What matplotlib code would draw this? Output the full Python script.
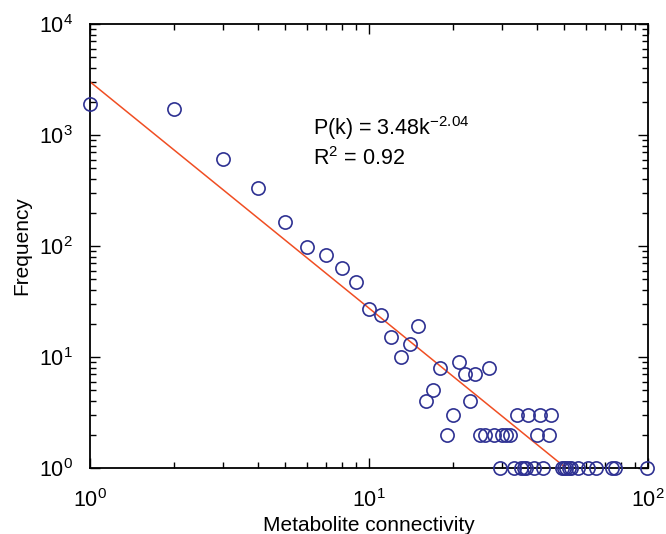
import numpy as np
import matplotlib
matplotlib.use('Agg')
from matplotlib import pyplot as plt

plt.rcParams['font.family'] = ['Liberation Sans', 'DejaVu Sans']
plt.rcParams['mathtext.default'] = 'regular'

# degree distribution
k = [1, 2, 3, 4, 5, 6, 7, 8, 9, 10, 11, 12, 13, 14, 15, 16, 17, 18, 19, 20,
     21, 22, 23, 24, 25, 26, 27, 28, 30, 31, 32, 40, 44,
     34, 37, 41, 45,
     29.5, 33, 35, 36, 36.5, 39, 42, 49, 50, 51, 52, 53, 56, 61, 65, 74, 76, 99]
freq = [1900, 1700, 610, 330, 165, 97, 83, 63, 47, 27, 24, 15, 10, 13, 19, 4, 5, 8, 2, 3,
        9, 7, 4, 7, 2, 2, 8, 2, 2, 2, 2, 2, 2,
        3, 3, 3, 3,
        1, 1, 1, 1, 1, 1, 1, 1, 1, 1, 1, 1, 1, 1, 1, 1, 1, 1]

# power-law fit shown on the chart
fit_logA = 3.48
fit_exp = -2.04

fig = plt.figure(figsize=(6.66, 5.34), dpi=100)
ax = fig.add_axes([0.135, 0.1236, 0.838, 0.8315])

k_end = 10 ** (fit_logA / -fit_exp)
kk = np.array([1.0, k_end])
ax.plot(kk, 10 ** fit_logA * kk ** fit_exp, color='#f04e23', lw=1.1, zorder=2)

ax.plot(k, freq, 'o', mfc='none', mec='#2e3192', mew=1.2, ms=9.5,
        clip_on=False, zorder=3)

ax.set_xscale('log')
ax.set_yscale('log')
ax.set_xlim(1, 100)
ax.set_ylim(1, 1e4)

ax.tick_params(which='both', direction='in', top=True, right=True, width=1)
ax.tick_params(which='major', length=7, labelsize=15.5)
ax.tick_params(which='minor', length=4)
ax.tick_params(axis='x', pad=15)
ax.tick_params(axis='y', pad=12)
for s in ax.spines.values():
    s.set_linewidth(1.3)

ax.set_xlabel('Metabolite connectivity', fontsize=15, labelpad=3)
ax.set_ylabel('Frequency', fontsize=15, labelpad=6)

ax.text(0.40, 0.766, 'P(k) = 3.48k$^{-2.04}$', transform=ax.transAxes,
        fontsize=15.5, va='center')
ax.text(0.40, 0.696, 'R$^2$ = 0.92', transform=ax.transAxes,
        fontsize=15.5, va='center')

plt.savefig('out.png', dpi=100)
